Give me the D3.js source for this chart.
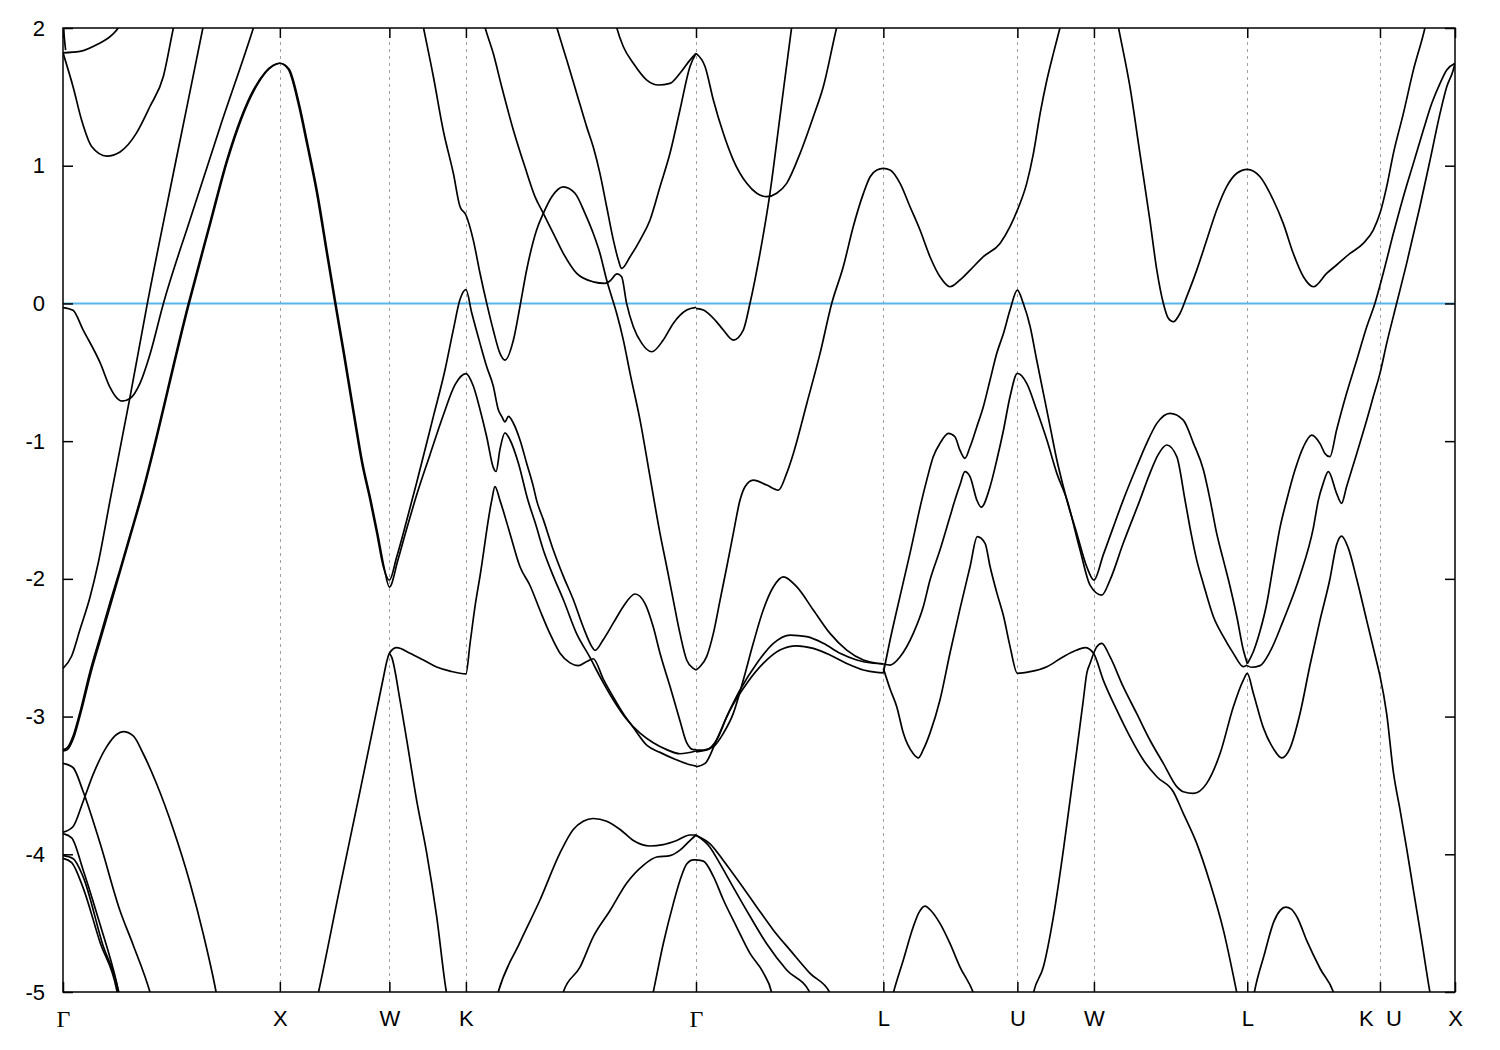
<!DOCTYPE html>
<html><head><meta charset="utf-8">
<script src="https://cdn.jsdelivr.net/npm/d3@7"></script>
<style>body{margin:0;background:#fff;} svg{display:block;}</style>
</head><body><svg id="chart" width="1500" height="1050"></svg>
<script>
// high-symmetry path (k in units of 2pi/a, path length)
const kTicks = [0, 1.000, 1.505, 1.858, 2.919, 3.783, 4.401, 4.754, 5.461, 6.073, 6.419];
const kLabels = ["Γ","X","W","K","Γ","L","U","W","L","K\u00a0\u00a0U","X"];
const eTicks = [2,1,0,-1,-2,-3,-4,-5];
const eRange = [-5, 2];
const fermiLevel = 0;

// bands: [k, E (eV)]
const band01 = [[0,1.82],[0.078,1.83],[0.157,1.88],[0.226,1.95],[0.254,2.0],[0.272,2.06]];
const band02 = [[0,1.82],[0.047,1.57],[0.086,1.33],[0.132,1.14],[0.202,1.07],[0.263,1.10],[0.340,1.24],[0.401,1.43],[0.463,1.65],[0.509,2.0],[0.52,2.08]];
const band03 = [[0.001,2.03],[0.006,1.93],[0.012,1.84]];
const band04 = [[0,-0.03],[0.046,-0.05],[0.092,-0.19],[0.171,-0.43],[0.217,-0.61],[0.250,-0.69],[0.271,-0.71],[0.309,-0.69],[0.355,-0.58],[0.401,-0.37],[0.463,0],[0.586,0.61],[0.724,1.28],[0.878,2.0],[0.89,2.06]];
const band05 = [[0,-2.65],[0.040,-2.56],[0.078,-2.37],[0.125,-2.13],[0.163,-1.88],[0.217,-1.43],[0.309,-0.68],[0.389,0],[0.516,1.0],[0.645,2.0],[0.66,2.12]];
const band06 = [[0,-3.24],[0.017,-3.23],[0.047,-3.14],[0.078,-2.97],[0.125,-2.67],[0.171,-2.42],[0.217,-2.17],[0.263,-1.93],[0.309,-1.68],[0.355,-1.43],[0.578,0],[0.678,0.59],[0.755,1.04],[0.878,1.55],[0.970,1.73],[1.0,1.744],[1.039,1.70],[1.085,1.45],[1.124,1.16],[1.170,0.80],[1.216,0.36],[1.254,0],[1.293,-0.36],[1.339,-0.80],[1.378,-1.16],[1.416,-1.43],[1.447,-1.67],[1.477,-1.91],[1.505,-2.01],[1.539,-1.84],[1.569,-1.67],[1.631,-1.30],[1.708,-0.82],[1.762,-0.48],[1.800,-0.19],[1.831,0.03],[1.858,0.10],[1.885,-0.07],[1.923,-0.29],[1.954,-0.46],[1.984,-0.60],[2.007,-0.77],[2.023,-0.82],[2.038,-0.86],[2.054,-0.82],[2.077,-0.87],[2.107,-0.99],[2.138,-1.16],[2.169,-1.33],[2.184,-1.43],[2.215,-1.57],[2.261,-1.79],[2.307,-1.98],[2.353,-2.15],[2.399,-2.35],[2.438,-2.49],[2.453,-2.52],[2.492,-2.44],[2.538,-2.32],[2.584,-2.20],[2.638,-2.11],[2.684,-2.18],[2.722,-2.35],[2.753,-2.54],[2.799,-2.78],[2.845,-3.03],[2.876,-3.19],[2.907,-3.24],[2.919,-3.24]];
const band07 = [[0,-3.25],[0.02,-3.24],[0.05,-3.15],[0.081,-2.98],[0.129,-2.68],[0.175,-2.43],[0.221,-2.18],[0.267,-1.93],[0.313,-1.68],[0.359,-1.43],[0.582,0],[0.682,0.59],[0.759,1.04],[0.882,1.55],[0.972,1.73],[1.0,1.744],[1.043,1.70],[1.089,1.45],[1.128,1.16],[1.174,0.80],[1.220,0.36],[1.258,0],[1.297,-0.36],[1.343,-0.80],[1.382,-1.16],[1.420,-1.43],[1.451,-1.67],[1.481,-1.92],[1.505,-2.06],[1.545,-1.86],[1.577,-1.68],[1.635,-1.37],[1.692,-1.10],[1.754,-0.81],[1.808,-0.59],[1.858,-0.51],[1.892,-0.60],[1.923,-0.77],[1.954,-0.97],[1.984,-1.19],[1.997,-1.22],[2.015,-1.06],[2.038,-0.94],[2.061,-0.99],[2.100,-1.16],[2.144,-1.43],[2.179,-1.60],[2.215,-1.79],[2.261,-1.98],[2.307,-2.15],[2.369,-2.40],[2.430,-2.57],[2.476,-2.71],[2.538,-2.88],[2.599,-3.02],[2.661,-3.12],[2.722,-3.19],[2.784,-3.24],[2.845,-3.27],[2.919,-3.25]];
const band08 = [[1.17,-5.06],[1.177,-5.01],[1.277,-4.24],[1.370,-3.54],[1.447,-2.95],[1.477,-2.72],[1.493,-2.60],[1.505,-2.54],[1.539,-2.50],[1.600,-2.54],[1.662,-2.59],[1.723,-2.64],[1.785,-2.67],[1.858,-2.69],[1.877,-2.47],[1.900,-2.20],[1.923,-1.98],[1.977,-1.43],[1.992,-1.33],[2.015,-1.43],[2.061,-1.67],[2.107,-1.91],[2.154,-2.05],[2.200,-2.23],[2.246,-2.40],[2.292,-2.54],[2.338,-2.61],[2.376,-2.63],[2.415,-2.60],[2.445,-2.58],[2.492,-2.73],[2.538,-2.86],[2.584,-2.98],[2.630,-3.08],[2.693,-3.21],[2.753,-3.26],[2.822,-3.31],[2.891,-3.35],[2.919,-3.36]];
const band09 = [[1.505,-2.54],[1.516,-2.57],[1.554,-2.88],[1.585,-3.17],[1.631,-3.61],[1.677,-3.99],[1.723,-4.45],[1.769,-5.01],[1.775,-5.06]];
const band10 = [[1.655,2.06],[1.662,2.005],[1.708,1.646],[1.754,1.252],[1.800,0.945],[1.831,0.702],[1.858,0.642],[1.892,0.460],[1.923,0.219],[1.954,0],[1.984,-0.193],[2.015,-0.362],[2.038,-0.411],[2.077,-0.266],[2.107,-0.024],[2.138,0.243],[2.184,0.533],[2.215,0.654],[2.254,0.775],[2.307,0.847],[2.361,0.800],[2.407,0.654],[2.445,0.509],[2.476,0.364],[2.507,0.170],[2.530,0.049],[2.553,-0.072],[2.584,-0.266],[2.615,-0.508],[2.661,-0.847],[2.707,-1.26],[2.753,-1.670],[2.784,-1.912],[2.814,-2.152],[2.845,-2.396],[2.876,-2.589],[2.907,-2.650],[2.919,-2.662]];
const band11 = [[1.935,2.07],[1.946,2.005],[1.984,1.816],[2.023,1.573],[2.077,1.258],[2.130,0.992],[2.177,0.774],[2.215,0.654],[2.261,0.509],[2.307,0.364],[2.369,0.218],[2.445,0.157],[2.499,0.146],[2.522,0.163],[2.555,0.214],[2.576,0.194],[2.599,0],[2.630,-0.169],[2.669,-0.290],[2.715,-0.351],[2.768,-0.266],[2.814,-0.145],[2.876,-0.048],[2.919,-0.028]];
const band12 = [[2.265,2.07],[2.277,2.005],[2.323,1.767],[2.369,1.525],[2.415,1.282],[2.445,1.137],[2.476,0.944],[2.507,0.702],[2.538,0.460],[2.561,0.315],[2.576,0.254],[2.615,0.339],[2.661,0.460],[2.707,0.606],[2.753,0.848],[2.799,1.090],[2.845,1.405],[2.891,1.719],[2.919,1.816]];
const band13 = [[2.543,2.07],[2.553,2.005],[2.584,1.864],[2.630,1.744],[2.692,1.622],[2.745,1.586],[2.799,1.598],[2.845,1.671],[2.891,1.767],[2.919,1.816]];
const band14 = [[1.99,-5.1],[2.007,-5.0],[2.107,-4.64],[2.200,-4.33],[2.292,-3.99],[2.353,-3.82],[2.399,-3.76],[2.445,-3.74],[2.507,-3.76],[2.569,-3.82],[2.630,-3.90],[2.707,-3.94],[2.768,-3.93],[2.830,-3.90],[2.891,-3.86],[2.919,-3.86]];
const band15 = [[2.297,-5.06],[2.307,-5.0],[2.384,-4.82],[2.445,-4.60],[2.522,-4.41],[2.599,-4.21],[2.676,-4.08],[2.738,-4.02],[2.799,-4.01],[2.845,-3.97],[2.891,-3.90],[2.919,-3.86]];
const band16 = [[2.714,-5.06],[2.722,-5.0],[2.768,-4.65],[2.814,-4.36],[2.845,-4.19],[2.876,-4.07],[2.907,-4.04],[2.919,-4.04]];
const band17 = [[2.919,1.816],[2.961,1.719],[2.999,1.477],[3.045,1.235],[3.091,1.041],[3.153,0.872],[3.199,0.800],[3.245,0.775],[3.291,0.800],[3.337,0.872],[3.399,1.090],[3.460,1.356],[3.506,1.574],[3.568,2.005],[3.58,2.08]];
const band18 = [[2.919,-0.036],[2.953,-0.048],[3.007,-0.121],[3.045,-0.193],[3.091,-0.266],[3.137,-0.193],[3.168,0.001],[3.214,0.364],[3.260,0.800],[3.306,1.353],[3.360,2.005],[3.37,2.12]];
const band19 = [[2.919,-2.662],[2.937,-2.638],[2.968,-2.565],[2.999,-2.396],[3.030,-2.154],[3.061,-1.912],[3.091,-1.670],[3.122,-1.428],[3.145,-1.331],[3.183,-1.283],[3.245,-1.319],[3.299,-1.356],[3.337,-1.234],[3.368,-1.089],[3.430,-0.726],[3.491,-0.363],[3.545,0.001],[3.598,0.266],[3.644,0.557],[3.691,0.799],[3.722,0.920],[3.753,0.969],[3.783,0.981],[3.814,0.969],[3.860,0.872],[3.906,0.702],[3.952,0.533],[3.998,0.339],[4.044,0.194],[4.090,0.121],[4.136,0.170],[4.183,0.242],[4.244,0.339],[4.321,0.436],[4.367,0.557],[4.401,0.678],[4.444,0.872],[4.475,1.090],[4.506,1.380],[4.537,1.622],[4.567,1.816],[4.598,2.005],[4.61,2.08]];
const band20 = [[2.919,-3.243],[2.953,-3.243],[2.999,-3.219],[3.045,-3.122],[3.091,-2.977],[3.137,-2.735],[3.183,-2.468],[3.229,-2.226],[3.276,-2.057],[3.322,-1.985],[3.383,-2.057],[3.460,-2.226],[3.537,-2.396],[3.614,-2.517],[3.691,-2.589],[3.753,-2.613],[3.783,-2.618]];
const band21 = [[2.919,-3.256],[2.968,-3.243],[3.014,-3.170],[3.061,-3.001],[3.122,-2.807],[3.199,-2.614],[3.276,-2.468],[3.353,-2.408],[3.430,-2.420],[3.506,-2.468],[3.583,-2.541],[3.660,-2.589],[3.737,-2.613],[3.783,-2.618]];
const band22 = [[2.919,-3.365],[2.961,-3.340],[3.014,-3.170],[3.076,-2.952],[3.153,-2.759],[3.229,-2.614],[3.306,-2.517],[3.383,-2.486],[3.460,-2.505],[3.537,-2.553],[3.614,-2.614],[3.691,-2.662],[3.753,-2.679],[3.783,-2.682]];
const band23 = [[2.919,-3.863],[2.984,-3.924],[3.045,-4.045],[3.122,-4.211],[3.199,-4.382],[3.276,-4.551],[3.353,-4.696],[3.445,-4.865],[3.537,-5.006],[3.545,-5.06]];
const band24 = [[2.919,-3.86],[2.984,-3.95],[3.030,-4.07],[3.091,-4.24],[3.168,-4.45],[3.245,-4.65],[3.337,-4.84],[3.445,-5.006],[3.452,-5.06]];
const band25 = [[2.919,-4.04],[2.953,-4.05],[2.999,-4.16],[3.045,-4.33],[3.107,-4.53],[3.168,-4.72],[3.229,-4.86],[3.268,-5.006],[3.275,-5.06]];
const band26 = [[3.783,-2.682],[3.814,-2.444],[3.860,-2.125],[3.906,-1.813],[3.960,-1.428],[3.983,-1.283],[4.013,-1.113],[4.044,-1.016],[4.083,-0.943],[4.113,-0.968],[4.136,-1.065],[4.159,-1.125],[4.183,-1.041],[4.214,-0.895],[4.244,-0.750],[4.275,-0.556],[4.306,-0.362],[4.337,-0.217],[4.367,-0.048],[4.401,0.097],[4.428,0.001],[4.460,-0.169],[4.490,-0.411],[4.521,-0.653],[4.552,-0.895],[4.583,-1.137],[4.613,-1.331],[4.629,-1.428],[4.675,-1.670],[4.721,-1.912],[4.754,-2.009],[4.797,-1.826],[4.842,-1.63],[4.889,-1.428],[4.951,-1.186],[4.997,-1.016],[5.044,-0.871],[5.105,-0.798],[5.166,-0.847],[5.213,-1.016],[5.259,-1.210],[5.290,-1.428],[5.320,-1.670],[5.351,-1.864],[5.382,-2.057],[5.413,-2.275],[5.443,-2.517],[5.461,-2.614]];
const band27 = [[3.783,-2.618],[3.814,-2.626],[3.860,-2.566],[3.921,-2.396],[3.967,-2.203],[3.998,-2.009],[4.044,-1.791],[4.090,-1.549],[4.113,-1.428],[4.136,-1.319],[4.159,-1.222],[4.183,-1.259],[4.214,-1.428],[4.234,-1.479],[4.275,-1.331],[4.306,-1.137],[4.337,-0.919],[4.367,-0.678],[4.401,-0.508],[4.444,-0.580],[4.490,-0.774],[4.537,-0.992],[4.583,-1.234],[4.630,-1.428],[4.690,-1.791],[4.736,-2.045],[4.790,-2.118],[4.828,-2.009],[4.889,-1.742],[4.966,-1.428],[5.012,-1.234],[5.049,-1.101],[5.090,-1.028],[5.136,-1.113],[5.174,-1.428],[5.202,-1.670],[5.228,-1.864],[5.258,-2.033],[5.305,-2.275],[5.351,-2.420],[5.397,-2.541],[5.443,-2.638],[5.461,-2.626]];
const band28 = [[3.783,-2.65],[3.814,-2.80],[3.845,-2.93],[3.875,-3.12],[3.921,-3.27],[3.944,-3.30],[3.967,-3.24],[3.998,-3.12],[4.044,-2.88],[4.090,-2.54],[4.136,-2.22],[4.183,-1.91],[4.216,-1.694],[4.252,-1.742],[4.275,-1.91],[4.306,-2.10],[4.337,-2.27],[4.367,-2.49],[4.401,-2.686],[4.460,-2.674],[4.537,-2.638],[4.613,-2.565],[4.675,-2.517],[4.713,-2.500],[4.752,-2.541],[4.797,-2.735],[4.859,-2.952],[4.920,-3.146],[4.982,-3.316],[5.044,-3.437],[5.120,-3.546],[5.166,-3.703],[5.228,-3.921],[5.290,-4.211],[5.351,-4.551],[5.413,-5.006],[5.42,-5.06]];
const band29 = [[4.468,-5.06],[4.475,-5.006],[4.521,-4.817],[4.567,-4.454],[4.613,-3.969],[4.644,-3.606],[4.675,-3.243],[4.705,-2.880],[4.721,-2.686],[4.736,-2.614],[4.767,-2.493],[4.790,-2.468],[4.828,-2.565],[4.889,-2.783],[4.951,-2.977],[5.012,-3.170],[5.074,-3.340],[5.136,-3.509],[5.166,-3.546],[5.213,-3.558],[5.274,-3.485],[5.336,-3.267],[5.397,-2.928],[5.443,-2.735],[5.461,-2.686],[5.489,-2.830],[5.535,-3.080],[5.581,-3.231],[5.620,-3.300],[5.658,-3.231],[5.704,-2.980],[5.750,-2.629],[5.796,-2.303],[5.842,-2.003],[5.873,-1.752],[5.896,-1.689],[5.927,-1.777],[5.966,-2.003],[6.012,-2.303],[6.058,-2.604],[6.073,-2.705],[6.104,-2.980],[6.135,-3.406],[6.166,-3.681],[6.196,-3.957],[6.227,-4.258],[6.266,-4.633],[6.304,-5.008],[6.31,-5.06]];
const band30 = [[3.82,-5.06],[3.829,-5.006],[3.875,-4.768],[3.921,-4.526],[3.948,-4.42],[3.975,-4.376],[4.003,-4.41],[4.044,-4.502],[4.090,-4.647],[4.136,-4.817],[4.198,-5.006],[4.21,-5.06]];
const band31 = [[4.858,2.08],[4.867,2.005],[4.920,1.574],[4.966,1.090],[5.012,0.605],[5.044,0.242],[5.074,0.001],[5.097,-0.108],[5.120,-0.133],[5.151,-0.072],[5.182,0.049],[5.228,0.242],[5.274,0.460],[5.320,0.678],[5.366,0.848],[5.413,0.945],[5.461,0.974],[5.520,0.920],[5.581,0.751],[5.627,0.581],[5.673,0.364],[5.720,0.194],[5.766,0.121],[5.827,0.218],[5.873,0.279],[5.935,0.363],[5.996,0.436],[6.042,0.533],[6.073,0.654],[6.104,0.848],[6.135,1.090],[6.181,1.380],[6.227,1.694],[6.281,2.005],[6.29,2.07]];
const band32 = [[5.461,-2.617],[5.489,-2.529],[5.520,-2.379],[5.551,-2.179],[5.581,-1.903],[5.612,-1.628],[5.643,-1.428],[5.681,-1.210],[5.720,-1.041],[5.758,-0.956],[5.796,-1.016],[5.819,-1.089],[5.842,-1.113],[5.873,-0.919],[5.919,-0.653],[5.966,-0.411],[6.012,-0.169],[6.050,0.001],[6.088,0.219],[6.135,0.509],[6.181,0.775],[6.227,1.017],[6.273,1.259],[6.312,1.453],[6.350,1.598],[6.381,1.695],[6.419,1.744]];
const band33 = [[5.461,-2.630],[5.481,-2.642],[5.520,-2.630],[5.566,-2.529],[5.627,-2.303],[5.704,-1.978],[5.766,-1.628],[5.789,-1.428],[5.810,-1.312],[5.835,-1.222],[5.873,-1.379],[5.896,-1.452],[5.919,-1.331],[5.966,-1.089],[6.012,-0.847],[6.042,-0.678],[6.073,-0.508],[6.104,-0.290],[6.150,0.001],[6.196,0.291],[6.257,0.702],[6.304,1.041],[6.350,1.380],[6.381,1.574],[6.411,1.695],[6.419,1.744]];
const band34 = [[5.487,-5.06],[5.493,-5.008],[5.539,-4.732],[5.585,-4.483],[5.614,-4.405],[5.638,-4.383],[5.664,-4.398],[5.691,-4.457],[5.737,-4.633],[5.798,-4.833],[5.860,-5.008],[5.87,-5.06]];
const band35 = [[0,-3.34],[0.046,-3.37],[0.092,-3.54],[0.171,-3.92],[0.263,-4.41],[0.324,-4.66],[0.401,-5.0],[0.41,-5.05]];
const band36 = [[0,-3.84],[0.046,-3.80],[0.092,-3.62],[0.139,-3.42],[0.201,-3.22],[0.247,-3.13],[0.278,-3.11],[0.324,-3.14],[0.370,-3.27],[0.432,-3.49],[0.509,-3.82],[0.586,-4.21],[0.647,-4.58],[0.701,-4.96],[0.712,-5.05]];
const band37 = [[0,-3.85],[0.040,-3.88],[0.092,-4.11],[0.171,-4.51],[0.247,-4.93],[0.26,-5.02]];
const band38 = [[0,-4.01],[0.046,-4.03],[0.092,-4.16],[0.184,-4.66],[0.253,-4.98],[0.258,-5.02]];
const band39 = [[0,-4.03],[0.040,-4.06],[0.092,-4.24],[0.171,-4.64],[0.247,-4.98],[0.252,-5.02]];

const bands = [band01,band02,band03,band04,band05,band06,band07,band08,band09,band10,
  band11,band12,band13,band14,band15,band16,band17,band18,band19,band20,
  band21,band22,band23,band24,band25,band26,band27,band28,band29,band30,
  band31,band32,band33,band34,band35,band36,band37,band38,band39];

const W = 1500, H = 1050;
const plot = {left: 63, right: 1455, top: 28, bottom: 992};
const svg = d3.select("#chart");
svg.append("rect").attr("width", W).attr("height", H).attr("fill", "#fff");

const x = d3.scaleLinear().domain([kTicks[0], kTicks[kTicks.length - 1]]).range([plot.left, plot.right]);
const y = d3.scaleLinear().domain(eRange).range([plot.bottom, plot.top]);

svg.append("defs").append("clipPath").attr("id", "clip")
  .append("rect").attr("x", plot.left).attr("y", plot.top)
  .attr("width", plot.right - plot.left).attr("height", plot.bottom - plot.top);

// dashed high-symmetry lines
svg.append("g").selectAll("line").data(kTicks.slice(1, -1)).join("line")
  .attr("x1", d => Math.round(x(d)) + 0.5).attr("x2", d => Math.round(x(d)) + 0.5)
  .attr("y1", plot.top).attr("y2", plot.bottom)
  .attr("stroke", "#a0a0a0").attr("stroke-width", 1).attr("stroke-dasharray", "3,4");

// Fermi level
svg.append("line")
  .attr("x1", plot.left).attr("x2", plot.right)
  .attr("y1", y(fermiLevel)).attr("y2", y(fermiLevel))
  .attr("stroke", "#56b4e9").attr("stroke-width", 2);

// bands
const line = d3.line().x(d => x(d[0])).y(d => y(d[1])).curve(d3.curveMonotoneX);
svg.append("g").attr("clip-path", "url(#clip)")
  .selectAll("path").data(bands).join("path")
  .attr("d", line).attr("fill", "none").attr("stroke", "#000")
  .attr("stroke-width", 1.7).attr("stroke-linejoin", "round");

const fontSans = "'Liberation Sans', Arial, Helvetica, sans-serif";
function styleAxis(g) {
  g.select(".domain").remove();
  g.selectAll(".tick line").attr("stroke", "#000").attr("stroke-width", 1.5);
  g.selectAll(".tick text").attr("fill", "#000").style("font-family", fontSans).style("font-size", "22px");
}

const gBottom = svg.append("g").attr("transform", `translate(0,${plot.bottom})`)
  .call(d3.axisBottom(x).tickValues(kTicks).tickFormat((d, i) => kLabels[i]).tickSize(-10).tickPadding(18))
  .call(styleAxis);
gBottom.selectAll(".tick text").filter(function() { return this.textContent === "Γ"; })
  .style("font-family", "'Liberation Serif', 'Times New Roman', serif").style("font-size", "24px");

svg.append("g").attr("transform", `translate(0,${plot.top})`)
  .call(d3.axisTop(x).tickValues(kTicks).tickFormat(() => "").tickSize(-10)).call(styleAxis);

svg.append("g").attr("transform", `translate(${plot.left},0)`)
  .call(d3.axisLeft(y).tickValues(eTicks).tickFormat(d => String(d)).tickSize(-10).tickPadding(18))
  .call(styleAxis);

svg.append("g").attr("transform", `translate(${plot.right},0)`)
  .call(d3.axisRight(y).tickValues(eTicks).tickFormat(() => "").tickSize(-10)).call(styleAxis);

// border
svg.append("rect").attr("x", plot.left).attr("y", plot.top)
  .attr("width", plot.right - plot.left).attr("height", plot.bottom - plot.top)
  .attr("fill", "none").attr("stroke", "#000").attr("stroke-width", 1.5);
</script></body></html>
